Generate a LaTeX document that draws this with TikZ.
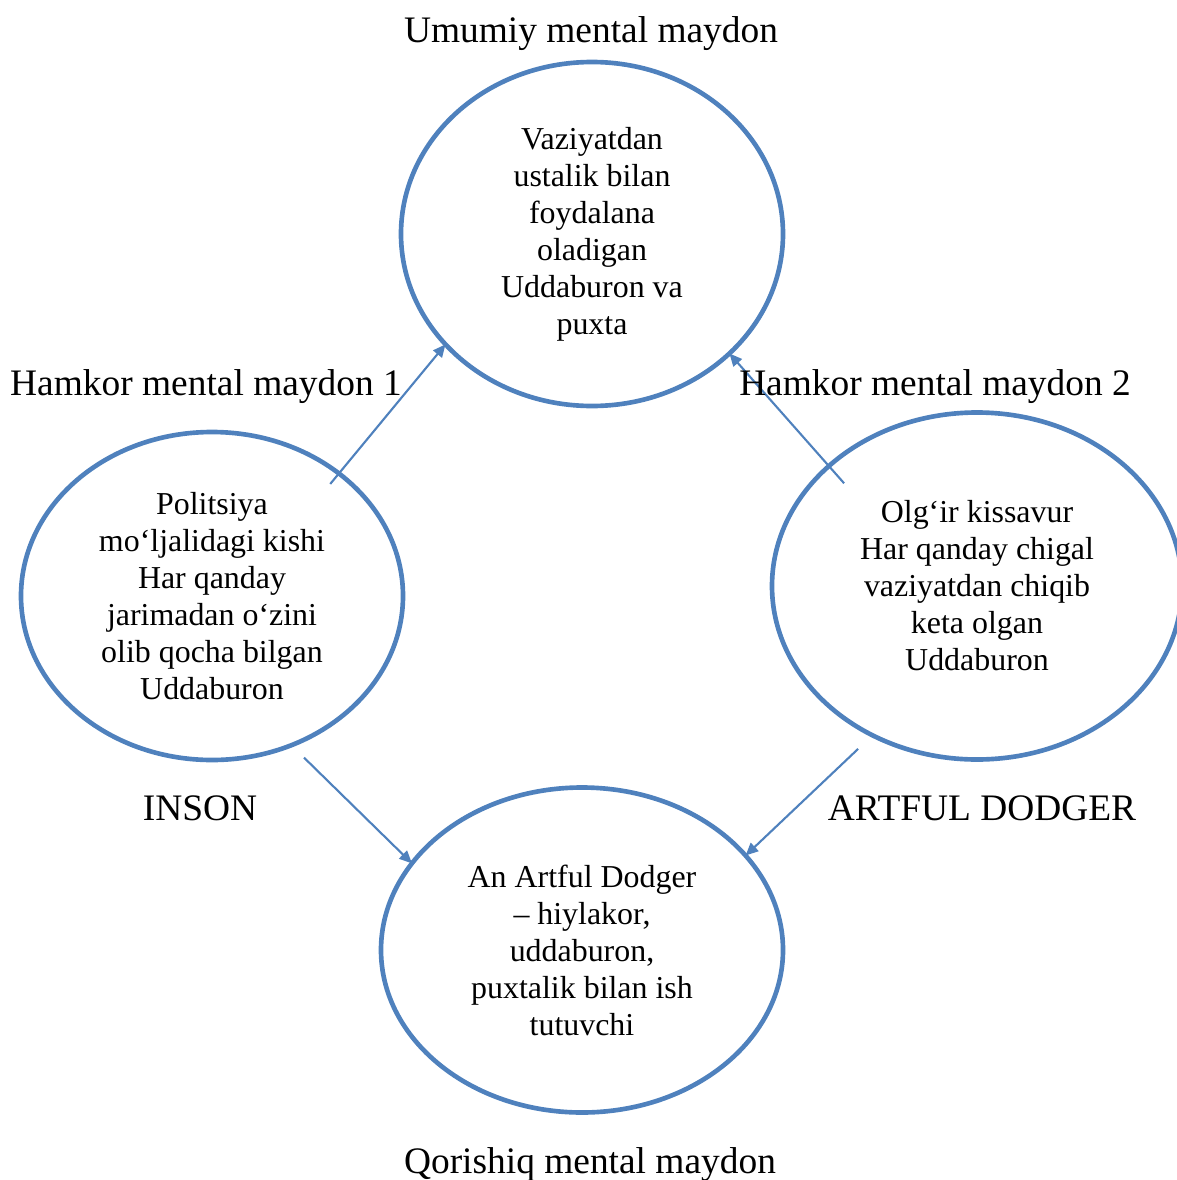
\documentclass[tikz,border=0pt]{standalone}
\usepackage{fontspec}
\setmainfont{Liberation Serif}
\usetikzlibrary{shapes.geometric,arrows.meta}
\definecolor{ko}{RGB}{79,129,189}
\begin{document}
\begin{tikzpicture}
	\tikzset{e/.style={draw=ko,line width=3.3pt,ellipse,inner sep=0pt,outer sep=0pt,align=center,font=\fontsize{22.7}{26.3}\selectfont},
		t/.style={font=\fontsize{26.6}{30}\selectfont},
		m/.style={draw=ko,line width=1.5pt,-{Triangle[length=9pt,width=8pt]}}}
	\useasboundingbox(0,0)rectangle(29.4,-29.5);
	%% Ellipslar
	\path(14.8,-5.85)node[e,minimum width=9.55cm,minimum height=8.6cm](T){Vaziyatdan\\ustalik bilan\\foydalana\\oladigan\\Uddaburon va\\puxta};
	\path(5.3,-14.9)node[e,minimum width=9.55cm,minimum height=8.2cm](L){Politsiya\\mo‘ljalidagi kishi\\Har qanday\\jarimadan o‘zini\\olib qocha bilgan\\Uddaburon};
	\path(24.425,-14.65)node[e,minimum width=10.25cm,minimum height=8.675cm](R){Olg‘ir kissavur\\Har qanday chigal\\vaziyatdan chiqib\\keta olgan\\Uddaburon};
	\path(14.55,-23.75)node[e,minimum width=10.05cm,minimum height=8.125cm](B){An Artful Dodger\\– hiylakor,\\uddaburon,\\puxtalik bilan ish\\tutuvchi};
	\foreach \x/\y/\a in {
		L.44/T.217/-0.34,
		R.141/T.319/-0.575,
		L.298/B.153/0.445,
		R.235/B.30/0.495}
	\draw[m,shorten <=\a cm](\x)--(\y);
	%% Yozuvlar
	\path(14.775,-0.84)node[t](U){Umumiy mental maydon}
	(5.15,-9.67)node[t](H1){Hamkor mental maydon 1}
	(23.375,-9.67)node[t](H2){Hamkor mental maydon 2}
	(5.0,-20.2)node[t](I){INSON}
	(24.55,-20.2)node[t](A){ARTFUL DODGER}
	(14.75,-29.12)node[t](Q){Qorishiq mental maydon};
\end{tikzpicture}
\end{document}
